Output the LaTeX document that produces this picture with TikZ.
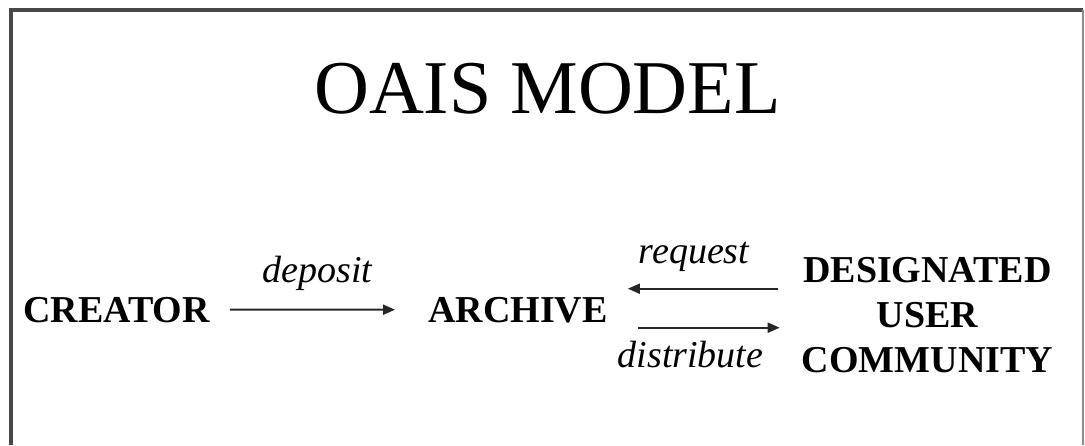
\documentclass[tikz,border=0pt]{standalone}
\usepackage{fontspec}
\setmainfont{Liberation Serif}
\usetikzlibrary{arrows.meta}
\begin{document}
\begin{tikzpicture}[x=1pt,y=1pt,
  entity/.style={inner sep=0pt, font=\fontsize{38}{45}\selectfont\bfseries},
  lab/.style={inner sep=0pt, font=\fontsize{38}{45}\selectfont\itshape},
  arr/.style={draw=black!85, line width=2pt, -{Triangle[length=12pt,width=10pt]}},
  frameline/.style={line width=3.2pt, draw=black!72}]
\useasboundingbox (0,0) rectangle (1085,-445);
% frame (bottom edge not shown)
\draw[frameline] (11,-445) -- (11,-10) -- (1083,-10);
\draw[line width=2.2pt, draw=black!45] (1083,-10) -- (1083,-445);
% title
\node[inner sep=0pt, anchor=base, font=\fontsize{76}{76}\selectfont] (title) at (547.5,-113) {OAIS MODEL};
% entities
\node[entity, anchor=base west] (creator) at (23,-322) {CREATOR};
\node[entity, anchor=base west] (archive) at (428,-322) {ARCHIVE};
\node[entity, align=center] (dug) at (927.5,-315.5) {DESIGNATED\\USER\\COMMUNITY};
% connectors
\draw[arr, shorten <=20pt, shorten >=33pt] (creator.east) -- (archive.west);
\draw[arr, shorten <=24pt, shorten >=20pt] ([yshift=21pt]archive.east -| dug.west) -- ([yshift=21pt]archive.east);
\draw[arr, shorten <=30pt, shorten >=22pt] ([yshift=-18pt]archive.east) -- ([yshift=-18pt]archive.east -| dug.west);
% labels
\node[lab, anchor=base] (deposit) at (317.5,-282) {deposit};
\node[lab, anchor=base] (request) at (694,-263) {request};
\node[lab, anchor=base] (distribute) at (690.5,-367) {distribute};
\end{tikzpicture}
\end{document}
